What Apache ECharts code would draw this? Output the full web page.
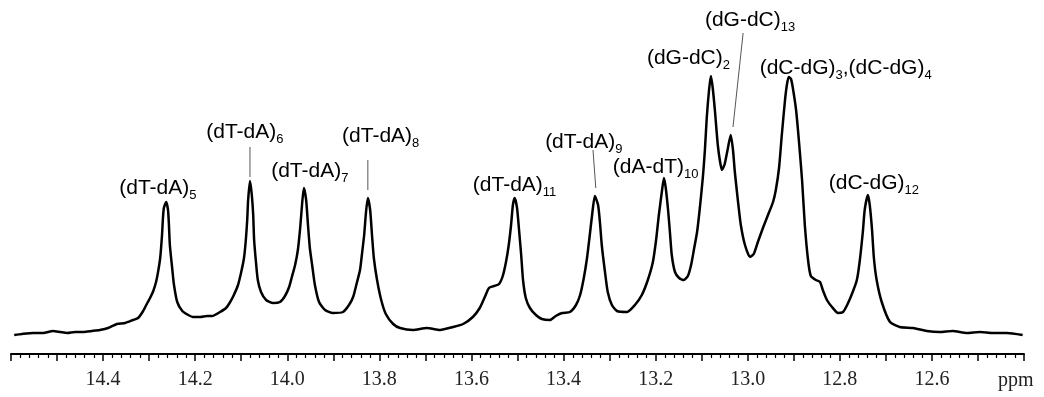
<!DOCTYPE html>
<html><head><meta charset="utf-8">
<script src="https://cdn.jsdelivr.net/npm/echarts@6/dist/echarts.min.js"></script>
<style>html,body{margin:0;padding:0;background:#fff;}#c{width:1044px;height:397px;}</style>
</head><body><div id="c"></div>
<script>
// Chemical shift (ppm) and intensity (arbitrary units)
const ppm = [14.593,14.576,14.552,14.530,14.509,14.493,14.478,14.461,14.443,14.424,14.407,14.389,14.370,14.352,14.335,14.324,14.313,14.304,14.298,14.291,14.285,14.281,14.276,14.272,14.270,14.268,14.263,14.259,14.257,14.255,14.250,14.246,14.239,14.228,14.215,14.205,14.189,14.174,14.163,14.146,14.133,14.124,14.116,14.107,14.100,14.094,14.090,14.087,14.085,14.081,14.077,14.074,14.072,14.068,14.064,14.057,14.046,14.031,14.016,14.005,13.996,13.990,13.983,13.977,13.972,13.968,13.964,13.959,13.955,13.951,13.946,13.940,13.931,13.918,13.901,13.879,13.866,13.857,13.849,13.842,13.838,13.833,13.829,13.825,13.820,13.816,13.812,13.805,13.796,13.786,13.770,13.755,13.727,13.697,13.668,13.640,13.618,13.597,13.582,13.571,13.562,13.551,13.540,13.532,13.525,13.519,13.514,13.510,13.506,13.501,13.497,13.492,13.488,13.482,13.473,13.460,13.447,13.430,13.417,13.403,13.386,13.373,13.364,13.356,13.349,13.343,13.338,13.332,13.325,13.321,13.317,13.310,13.304,13.295,13.284,13.262,13.245,13.230,13.217,13.206,13.199,13.193,13.186,13.182,13.178,13.173,13.169,13.165,13.158,13.149,13.139,13.130,13.123,13.117,13.110,13.104,13.097,13.093,13.089,13.084,13.080,13.076,13.071,13.065,13.060,13.056,13.050,13.043,13.037,13.032,13.028,13.021,13.015,13.006,12.995,12.987,12.978,12.967,12.956,12.945,12.939,12.932,12.926,12.919,12.915,12.911,12.906,12.902,12.895,12.889,12.882,12.876,12.869,12.863,12.852,12.843,12.837,12.828,12.817,12.804,12.793,12.783,12.772,12.763,12.757,12.750,12.746,12.739,12.735,12.730,12.726,12.720,12.709,12.691,12.670,12.641,12.611,12.583,12.555,12.524,12.496,12.468,12.437,12.403];
const intensity = [19,20,21,21,23,22,21,22,22,23,24,26,30,31,34,36,43,51,56,63,72,81,96,119,136,146,152,144,129,109,86,69,52,43,39,37,37,38,38,42,46,52,59,69,82,96,114,134,154,173,159,139,114,92,74,62,54,51,52,58,67,77,89,104,126,149,166,154,129,106,89,69,52,44,41,42,49,57,71,84,99,119,142,156,144,119,96,74,54,40,30,26,24,26,24,27,30,37,46,57,66,68,70,78,92,109,129,149,156,146,126,99,74,56,46,39,35,34,38,41,42,49,59,76,96,119,139,158,149,132,109,82,62,49,43,42,49,59,74,92,114,139,164,176,166,144,122,99,82,76,74,78,89,104,122,146,179,204,236,264,278,266,242,209,192,184,190,206,219,204,182,152,129,109,97,100,112,126,139,152,164,186,219,254,269,277,275,266,244,214,174,129,94,78,74,72,64,54,47,41,42,50,62,74,92,122,144,159,149,124,96,74,52,32,27,26,23,22,23,21,22,21,21,19];
const tickLabels = ['14.4','14.2','14.0','13.8','13.6','13.4','13.2','13.0','12.8','12.6'];
const axisUnit = 'ppm';
// Peak annotations: [main text, subscript] pieces, anchored at text left / middle
const annoParts = [
  [['(dT-dA)','5']], [['(dT-dA)','6']], [['(dT-dA)','7']], [['(dT-dA)','8']],
  [['(dT-dA)','11']], [['(dT-dA)','9']], [['(dA-dT)','10']], [['(dG-dC)','2']],
  [['(dG-dC)','13']], [['(dC-dG)','3'],[',(dC-dG)','4']], [['(dC-dG)','12']]
];
const annoPpm = [14.365,14.176,14.035,13.881,13.597,13.440,13.293,13.219,13.093,12.974,12.824];
const annoVal = [166,222,183,218,169,212,187,296,334,286,171];
// Leader lines (start / end)
const leaderPpm = [[14.081,14.081],[13.825,13.825],[13.336,13.330],[13.010,13.032]];
const leaderVal = [[207,177],[194,164],[204,166],[321,227]];

const chart = echarts.init(document.getElementById('c'), null, {renderer:'canvas'});
const spec = ppm.map((p,i)=>[p,intensity[i]]);
const txtColor = '#000';
const series = [{
  type:'line', data:spec, showSymbol:false, symbol:'none', smooth:0.2,
  lineStyle:{color:'#000', width:2.5}, animation:false, z:3
}];
leaderPpm.forEach((lp,i)=>{
  series.push({type:'line', data:[[lp[0],leaderVal[i][0]],[lp[1],leaderVal[i][1]]],
    symbol:'none', lineStyle:{color:'#555', width:1}, animation:false, z:2});
});
series.push({
  type:'scatter', symbol:'circle', symbolSize:0, itemStyle:{color:'#000', opacity:1}, animation:false, z:4,
  silent:true,
  data: annoPpm.map((p,i)=>({value:[p,annoVal[i]],
     name: annoParts[i].map(pc=>'{m|'+pc[0]+'}{s|'+pc[1]+'}').join('')})),
  label:{show:true, position:[0,0], align:'left', verticalAlign:'middle', color:txtColor, opacity:1,
    formatter: d=>d.name,
    rich:{
      m:{fontFamily:'Liberation Sans', fontSize:21, lineHeight:28, color:txtColor},
      s:{fontFamily:'Liberation Sans', fontSize:13, lineHeight:13, verticalAlign:'bottom', color:txtColor}
    }}
});

chart.setOption({
  animation:false,
  backgroundColor:'#fff',
  grid:{left:11, right:20, top:0, bottom:43, containLabel:false, outerBoundsMode:'none'},
  xAxis:{type:'value', inverse:true, min:12.4, max:14.6, interval:0.1,
    axisLine:{show:true, lineStyle:{color:'#000', width:2}},
    axisTick:{show:true, length:7, lineStyle:{color:'#000', width:1.5}},
    minorTick:{show:true, splitNumber:5, length:4, lineStyle:{color:'#000', width:1.2}},
    splitLine:{show:false}, minorSplitLine:{show:false},
    axisLabel:{show:true, margin:16, fontFamily:'Liberation Serif', fontSize:20, color:'#222',
      showMinLabel:true, showMaxLabel:true,
      formatter:v=>{const s=v.toFixed(1); return tickLabels.includes(s)?s:'';}}
  },
  yAxis:{type:'value', min:0, max:354, show:false},
  graphic:[{type:'text', x:998, y:371, style:{text:axisUnit, font:'20px "Liberation Serif"', fill:'#222', verticalAlign:'top'}}],
  series
});
</script></body></html>
